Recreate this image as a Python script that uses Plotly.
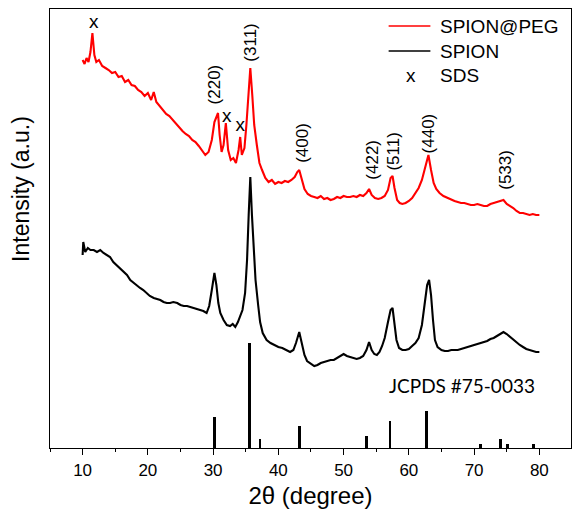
import plotly.graph_objects as go

# ---- data ----
peg_theta = [10.0, 10.3, 10.6, 10.9, 11.2, 11.5, 11.8, 12.1, 12.5, 13.0, 13.5, 14.0, 14.5, 15.0, 15.5,
             16.0, 16.5, 17.0, 17.5, 18.0, 18.5, 19.0, 19.5, 20.0, 20.5, 20.9, 21.3, 21.8, 22.3, 22.8,
             23.3, 23.8, 24.3, 24.8, 25.3, 25.8, 26.3, 26.8, 27.3, 27.8, 28.3, 28.8, 29.3, 29.8, 30.2,
             30.5, 30.75, 31.0, 31.3, 31.6, 31.95, 32.3, 32.7, 33.1, 33.5, 33.9, 34.15, 34.4, 34.8, 35.1,
             35.4, 35.7, 36.0, 36.3, 36.7, 37.1, 37.5, 38.0, 38.5, 39.0, 39.5, 40.0, 40.5, 41.0, 41.5,
             42.0, 42.5, 42.9, 43.2, 43.6, 44.0, 44.5, 45.0, 45.5, 46.0, 46.5, 47.0, 47.5, 48.0, 48.5,
             49.0, 49.5, 50.0, 50.5, 51.0, 51.5, 52.0, 52.5, 53.0, 53.5, 53.9, 54.3, 54.8, 55.3, 55.8,
             56.3, 56.8, 57.2, 57.5, 57.8, 58.2, 58.6, 59.0, 59.5, 60.0, 60.5, 61.0, 61.5, 62.0, 62.5,
             63.0, 63.4, 63.8, 64.2, 64.7, 65.3, 66.0, 66.5, 67.0, 67.5, 68.0, 68.5, 69.0, 69.5, 70.0,
             70.5, 71.0, 71.5, 72.0, 72.5, 73.0, 73.5, 74.0, 74.5, 75.0, 75.5, 76.0, 76.5, 77.0, 77.5,
             78.0, 78.5, 79.0, 79.5, 80.0]
peg_intensity = [388, 384, 390, 386, 396, 415, 393, 386, 388, 382, 380, 378, 375, 376, 371,
                 372, 366, 368, 363, 362, 358, 356, 352, 355, 348, 356, 346, 342, 338, 334,
                 332, 328, 324, 320, 317, 314, 312, 308, 306, 302, 298, 293, 296, 308, 326,
                 332, 335, 313, 296, 303, 325, 298, 288, 290, 285, 298, 311, 293, 300, 323,
                 353, 380, 353, 323, 303, 285, 278, 270, 266, 268, 264, 266, 265, 267, 266,
                 268, 271, 276, 278, 268, 259, 254, 252, 251, 250, 252, 249, 250, 248, 249,
                 251, 250, 252, 251, 251, 252, 251, 253, 252, 255, 259, 253, 250, 249, 250,
                 252, 258, 270, 272, 260, 248, 245, 244, 245, 247, 250, 255, 260, 268, 280,
                 293, 278, 265, 259, 255, 252, 250, 248, 247, 246, 245, 245, 244, 243, 243,
                 244, 243, 242, 242, 244, 245, 246, 247, 248, 244, 242, 240, 237, 235, 235,
                 234, 233, 234, 233, 233]

spion_theta = [10.0, 10.1, 10.4, 10.8, 11.2, 11.7, 12.2, 12.7, 13.2, 13.7, 14.2, 14.7, 15.2, 15.7, 16.2,
               16.8, 17.3, 17.8, 18.3, 18.8, 19.3, 19.8, 20.3, 20.9, 21.4, 21.9, 22.4, 22.9, 23.4, 23.9,
               24.5, 25.0, 25.5, 26.0, 26.5, 27.0, 27.5, 28.0, 28.5, 29.0, 29.4, 29.8, 30.2, 30.5, 30.8,
               31.1, 31.6, 32.1, 32.6, 33.0, 33.4, 33.8, 34.2, 34.5, 34.9, 35.2, 35.45, 35.7, 35.95, 36.2,
               36.5, 36.9, 37.2, 37.6, 38.2, 38.8, 39.4, 40.0, 40.6, 41.2, 41.8, 42.3, 42.7, 43.2, 43.6,
               44.0, 44.4, 45.0, 45.5, 46.0, 46.5, 47.0, 47.5, 48.0, 48.5, 49.0, 49.5, 50.0, 50.5, 51.0,
               51.5, 52.0, 52.5, 53.0, 53.5, 53.9, 54.3, 54.7, 55.1, 55.5, 55.9, 56.3, 56.8, 57.2, 57.5,
               57.8, 58.1, 58.5, 59.0, 59.5, 60.0, 60.5, 61.0, 61.5, 62.0, 62.4, 62.8, 63.1, 63.4, 63.7,
               64.0, 64.4, 65.0, 65.5, 66.0, 66.5, 67.0, 67.5, 68.0, 68.5, 69.0, 69.5, 70.0, 70.5, 71.0,
               71.5, 72.0, 72.5, 73.0, 73.5, 74.0, 74.5, 75.0, 75.5, 76.0, 76.5, 77.0, 77.5, 78.0, 78.5,
               79.0, 79.5, 80.0]
spion_intensity = [193, 206, 196, 200, 198, 198, 196, 198, 195, 193, 191, 186, 183, 180, 176,
                   173, 168, 165, 162, 160, 158, 155, 152, 150, 149, 148, 146, 145, 145, 146,
                   145, 143, 142, 142, 141, 140, 139, 138, 137, 135, 142, 158, 175, 163, 145,
                   135, 128, 123, 122, 124, 121, 126, 132, 138, 155, 188, 233, 271, 233, 198,
                   168, 143, 126, 115, 108, 105, 103, 101, 100, 98, 96, 98, 105, 116, 103,
                   93, 87, 84, 82, 83, 85, 86, 87, 88, 88, 90, 92, 94, 92, 91,
                   90, 89, 90, 92, 98, 106, 98, 94, 93, 96, 102, 110, 126, 138, 140,
                   126, 108, 100, 98, 98, 99, 102, 105, 110, 123, 143, 163, 168, 153, 128,
                   108, 101, 98, 97, 97, 98, 98, 98, 99, 100, 101, 102, 103, 104, 105,
                   106, 107, 109, 110, 112, 114, 116, 114, 111, 108, 105, 103, 101, 99, 98,
                   97, 96, 96]

jcpds_theta = [30.2, 35.6, 37.2, 43.2, 53.5, 57.1, 62.7, 71.0, 74.0, 75.1, 79.1]
jcpds_height = [31, 105, 9, 22, 12, 27, 37, 4, 9, 4, 4]

sds_theta = [11.7, 32.1, 34.15]
sds_label_y = [425, 331, 322]

hkl_labels = ["(220)", "(311)", "(400)", "(422)", "(511)", "(440)", "(533)"]
hkl_theta = [30.2, 35.6, 43.6, 54.3, 57.5, 63.0, 74.7]
hkl_label_y = [364, 405, 305, 288, 296, 315, 278]

series_names = ["SPION@PEG", "SPION", "SDS"]
x_ticks = [10, 20, 30, 40, 50, 60, 70, 80]

FONT = "Liberation Sans, Arial, sans-serif"

fig = go.Figure()
fig.add_trace(go.Bar(x=jcpds_theta, y=jcpds_height, width=0.42, marker=dict(color="black", line=dict(width=0)),
                     showlegend=False, hoverinfo="skip"))
fig.add_trace(go.Scatter(x=peg_theta, y=peg_intensity, mode="lines", line=dict(color="#ff0000", width=2.1),
                         name=series_names[0], showlegend=False))
fig.add_trace(go.Scatter(x=spion_theta, y=spion_intensity, mode="lines", line=dict(color="black", width=2.1),
                         name=series_names[1], showlegend=False))
fig.add_trace(go.Scatter(x=sds_theta, y=sds_label_y, mode="text", text=["x"] * len(sds_theta),
                         textfont=dict(family=FONT, size=19, color="black"), showlegend=False, hoverinfo="skip"))

annotations = []
for lab, xt, yt in zip(hkl_labels, hkl_theta, hkl_label_y):
    annotations.append(dict(x=xt, y=yt, xref="x", yref="y", text=lab, showarrow=False, textangle=-90,
                            font=dict(family=FONT, size=17, color="black")))
annotations.append(dict(x=79.6, y=63, xref="x", yref="y", text="JCPDS #75-0033", showarrow=False,
                        xanchor="right", font=dict(family="Lato, Open Sans, sans-serif", size=19, color="black")))
# legend (drawn manually to match the reference layout)
leg_y = [422, 397, 373]
annotations += [
    dict(x=64.5, y=leg_y[0], xref="x", yref="y", text=series_names[0], showarrow=False, xanchor="left",
         font=dict(family=FONT, size=19, color="black")),
    dict(x=64.5, y=leg_y[1], xref="x", yref="y", text=series_names[1], showarrow=False, xanchor="left",
         font=dict(family=FONT, size=19, color="black")),
    dict(x=64.5, y=leg_y[2], xref="x", yref="y", text=series_names[2], showarrow=False, xanchor="left",
         font=dict(family=FONT, size=19, color="black")),
    dict(x=60.4, y=leg_y[2], xref="x", yref="y", text="x", showarrow=False,
         font=dict(family=FONT, size=19, color="black")),
    dict(x=-0.027, y=0.59, xref="paper", yref="paper", text="Intensity (a.u.)", showarrow=False,
         textangle=-90, xanchor="right", font=dict(family=FONT, size=23, color="black")),
]
shapes = [
    dict(type="line", xref="x", yref="y", x0=56.9, x1=63.3, y0=leg_y[0], y1=leg_y[0],
         line=dict(color="#ff0000", width=1.3)),
    dict(type="line", xref="x", yref="y", x0=56.9, x1=63.3, y0=leg_y[1], y1=leg_y[1],
         line=dict(color="black", width=1.3)),
]

fig.update_layout(
    width=574, height=521,
    margin=dict(l=50, r=3, t=9, b=73),
    paper_bgcolor="white", plot_bgcolor="white",
    annotations=annotations, shapes=shapes,
    bargap=0,
    xaxis=dict(range=[5, 84.85], tickvals=x_ticks, ticks="outside", ticklen=6, tickwidth=1.3,
               tickcolor="black", showline=True, linecolor="black", linewidth=1.3, mirror=True,
               showgrid=False, zeroline=False,
               tickfont=dict(family=FONT, size=17, color="black"),
               minor=dict(tickvals=[5, 15, 25, 35, 45, 55, 65, 75, 85], ticks="outside", ticklen=3,
                          tickwidth=1.3, tickcolor="black"),
               title=dict(text="2θ (degree)", font=dict(family=FONT, size=24, color="black"), standoff=8)),
    yaxis=dict(range=[0, 439], showticklabels=False, ticks="", showline=True, linecolor="black",
               linewidth=1.3, mirror=True, showgrid=False, zeroline=False),
)

fig.write_html("out.html", config={"displayModeBar": False},
               post_script="document.body.style.margin='0';document.body.style.overflow='hidden';")
